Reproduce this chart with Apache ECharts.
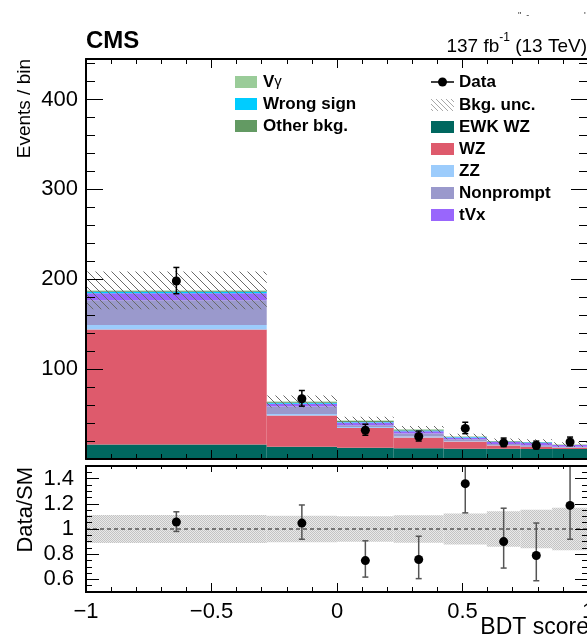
<!DOCTYPE html>
<html>
<head>
<meta charset="utf-8">
<script src="https://cdn.jsdelivr.net/npm/echarts@6/dist/echarts.min.js"></script>
<style>
  html, body { margin: 0; padding: 0; background: #fff; }
  #chart { width: 587px; height: 643px; }
</style>
</head>
<body>
<div id="chart"></div>
<script>
// BDT score binning (variable width) and per-bin yields
const binEdges    = [-1, -0.28, 0, 0.226, 0.425, 0.597, 0.731, 0.857, 1];
const ewkWZ       = [16, 13.5, 12.5, 12, 11.5, 11.5, 11, 11];
const wz          = [128, 35, 22, 12, 8, 3.5, 2.5, 1.5];
const zz          = [5, 1.5, 1, 1, 0.5, 0.3, 0.2, 0.2];
const nonprompt   = [27.5, 8.5, 2, 3.5, 2, 1.5, 1.5, 1];
const tvx         = [8, 3, 3, 2.5, 2, 2.5, 3, 1.8];
const wrongSign   = [1.5, 1, 0.7, 0.8, 0.4, 0.3, 0.3, 0.2];
const otherBkg    = [1, 1, 1, 0.8, 0.4, 0.3, 0.3, 0.2];
const vGamma      = [0.5, 0.5, 0.5, 0.4, 0.2, 0.1, 0.2, 0.1];
const bkgUnc      = [21, 6.7, 4.3, 3.6, 3.1, 2.8, 2.9, 2.7];
const dataCounts  = [198, 67, 32, 25, 34, 18, 15, 19];
const dataErrUp   = [15.1, 9.2, 6.7, 6.1, 6.9, 5.3, 4.9, 5.4];
const dataErrDown = [14.1, 8.2, 5.6, 5.0, 5.8, 4.2, 3.8, 4.3];

// axis ticks
const ratioMajorTicks = [0.6, 0.8, 1, 1.2, 1.4];
const ratioMinorTicks = [0.55, 0.65, 0.7, 0.75, 0.85, 0.9, 0.95, 1.05, 1.1, 1.15, 1.25, 1.3, 1.35, 1.45];

const FONT = '"Liberation Sans", Arial, Helvetica, sans-serif';
const nBins = dataCounts.length;

const layers = [
  { name: 'EWK WZ',      values: ewkWZ,     color: '#00675f' },
  { name: 'WZ',          values: wz,        color: '#de5a6c' },
  { name: 'ZZ',          values: zz,        color: '#9cccfc' },
  { name: 'Nonprompt',   values: nonprompt, color: '#9a99cc' },
  { name: 'tVx',         values: tvx,       color: '#9966fc' },
  { name: 'Wrong sign',  values: wrongSign, color: '#00ccff' },
  { name: 'Other bkg.',  values: otherBkg,  color: '#639a63' },
  { name: 'V\u03b3',     values: vGamma,    color: '#9acc99' }
];

// diagonal hatch used for the background uncertainty
function makeHatch(step, color) {
  const c = document.createElement('canvas');
  c.width = step; c.height = step;
  const g = c.getContext('2d');
  g.strokeStyle = color; g.lineWidth = 1;
  g.beginPath();
  g.moveTo(-1, -1); g.lineTo(step + 1, step + 1);
  g.moveTo(-1, step - 1); g.lineTo(1, step + 1);
  g.moveTo(step - 1, -1); g.lineTo(step + 1, 1);
  g.stroke();
  return c;
}
// fine stipple used for the ratio uncertainty band
function makeStipple() {
  const c = document.createElement('canvas');
  c.width = 2; c.height = 2;
  const g = c.getContext('2d');
  g.fillStyle = '#e9e9e9'; g.fillRect(0, 0, 2, 2);
  g.fillStyle = '#c4c4c4'; g.fillRect(0, 0, 1, 1); g.fillRect(1, 1, 1, 1);
  return c;
}
const hatchCanvas = makeHatch(8, '#6a6a6a');
const legendHatch = makeHatch(5, '#a8a8a8');
const stippleCanvas = makeStipple();

function rectItem(fillFn) {
  return function (params, api) {
    const a = api.coord([api.value(0), api.value(3)]);
    const b = api.coord([api.value(1), api.value(2)]);
    return {
      type: 'rect',
      shape: { x: a[0], y: a[1], width: b[0] - a[0], height: b[1] - a[1] },
      style: { fill: fillFn ? fillFn() : api.visual('color') }
    };
  };
}

function pointItem(color, r, capW) {
  return function (params, api) {
    const cs = params.coordSys;
    const c = api.coord([api.value(0), api.value(1)]);
    let top = api.coord([api.value(0), api.value(3)])[1];
    let bot = api.coord([api.value(0), api.value(2)])[1];
    const yMin = cs.y, yMax = cs.y + cs.height;
    const topClipped = top < yMin, botClipped = bot > yMax;
    top = Math.max(top, yMin); bot = Math.min(bot, yMax);
    const st = { stroke: color, lineWidth: 1.5 };
    const kids = [{ type: 'line', shape: { x1: c[0], y1: top, x2: c[0], y2: bot }, style: st }];
    if (!topClipped) kids.push({ type: 'line', shape: { x1: c[0] - capW, y1: top, x2: c[0] + capW, y2: top }, style: st });
    if (!botClipped) kids.push({ type: 'line', shape: { x1: c[0] - capW, y1: bot, x2: c[0] + capW, y2: bot }, style: st });
    kids.push({ type: 'circle', shape: { cx: c[0], cy: c[1], r: r }, style: { fill: '#000' } });
    return { type: 'group', children: kids };
  };
}

// stacked histogram layers
const cum = new Array(nBins).fill(0);
const stackSeries = layers.map(function (l) {
  const items = l.values.map(function (v, i) {
    const base = cum[i];
    cum[i] += v;
    return [binEdges[i], binEdges[i + 1], base, cum[i]];
  });
  return {
    type: 'custom', name: l.name, xAxisIndex: 0, yAxisIndex: 0, silent: true,
    itemStyle: { color: l.color }, renderItem: rectItem(), encode: { x: [0, 1], y: [2, 3] },
    data: items, z: 2
  };
});
const totals = cum.slice();
const centers = totals.map(function (_, i) { return (binEdges[i] + binEdges[i + 1]) / 2; });

const uncItems = totals.map(function (t, i) {
  return [binEdges[i], binEdges[i + 1], t - bkgUnc[i], t + bkgUnc[i]];
});
const dataItems = dataCounts.map(function (d, i) {
  return [centers[i], d, d - dataErrDown[i], d + dataErrUp[i]];
});
const ratioBandItems = totals.map(function (t, i) {
  return [binEdges[i], binEdges[i + 1], 1 - bkgUnc[i] / t, 1 + bkgUnc[i] / t];
});
const ratioItems = dataCounts.map(function (d, i) {
  const t = totals[i];
  return [centers[i], d / t, (d - dataErrDown[i]) / t, (d + dataErrUp[i]) / t];
});

function xAx(grid, pos, major, minor, labels) {
  return {
    type: 'value', gridIndex: grid, position: pos, min: -1, max: 1, interval: 0.5, z: 10,
    axisLine: { show: true, onZero: false, lineStyle: { color: '#000', width: 2 } },
    axisTick: { show: true, inside: true, length: major, lineStyle: { color: '#000', width: 1 } },
    minorTick: { show: true, splitNumber: 5, length: minor, lineStyle: { color: '#000', width: 1 } },
    splitLine: { show: false }, minorSplitLine: { show: false },
    axisLabel: labels ? {
      show: true, color: '#000', fontFamily: FONT, fontSize: 22, margin: 9, hideOverlap: false,
      formatter: function (v) { return String(v).replace('-', '\u2212'); }
    } : { show: false }
  };
}
function yAxMain(pos, labels) {
  return {
    type: 'value', gridIndex: 0, position: pos, min: 0, max: 445, interval: 100, z: 10,
    axisLine: { show: true, onZero: false, lineStyle: { color: '#000', width: 2 } },
    axisTick: { show: true, inside: true, length: 17, lineStyle: { color: '#000', width: 1 } },
    minorTick: { show: true, splitNumber: 5, length: 9, lineStyle: { color: '#000', width: 1 } },
    splitLine: { show: false }, minorSplitLine: { show: false },
    axisLabel: labels ? {
      show: true, color: '#000', fontFamily: FONT, fontSize: 22, margin: 8,
      showMaxLabel: false, showMinLabel: false
    } : { show: false }
  };
}
function yAxRatio(pos, ticks, len, labels) {
  return {
    type: 'value', gridIndex: 1, position: pos, min: 0.5, max: 1.5, z: 10,
    axisLine: { show: true, onZero: false, lineStyle: { color: '#000', width: 2 } },
    axisTick: { show: true, inside: true, length: len, customValues: ticks, lineStyle: { color: '#000', width: 1 } },
    splitLine: { show: false },
    axisLabel: labels ? {
      show: true, color: '#000', fontFamily: FONT, fontSize: 22, margin: 12, customValues: ticks
    } : { show: false }
  };
}

const chart = echarts.init(document.getElementById('chart'), null, { renderer: 'canvas' });

const legendLeft = [
  { label: 'V', sym: '\u03b3', color: '#9acc99', y: 82 },
  { label: 'Wrong sign', color: '#00ccff', y: 104 },
  { label: 'Other bkg.', color: '#639a63', y: 126 }
];
const legendRight = [
  { label: 'EWK WZ', color: '#00675f', y: 127 },
  { label: 'WZ', color: '#de5a6c', y: 149 },
  { label: 'ZZ', color: '#9cccfc', y: 171 },
  { label: 'Nonprompt', color: '#9a99cc', y: 193 },
  { label: 'tVx', color: '#9966fc', y: 215 }
];
const legendFont = { fontFamily: FONT, fontSize: 17, fontWeight: 'bold', fill: '#000' };
const graphics = [];
legendLeft.forEach(function (e) {
  graphics.push({ type: 'rect', left: 235, top: e.y - 6, shape: { width: 22, height: 12 }, style: { fill: e.color } });
  graphics.push({
    type: 'text', x: 263, y: e.y,
    style: e.sym ? {
      text: '{b|' + e.label + '}{g|' + e.sym + '}', verticalAlign: 'middle',
      rich: { b: legendFont, g: { fontFamily: FONT, fontSize: 15, fill: '#000' } }
    } : Object.assign({ text: e.label, verticalAlign: 'middle' }, legendFont)
  });
});
legendRight.forEach(function (e) {
  graphics.push({ type: 'rect', left: 431, top: e.y - 6, shape: { width: 23, height: 12 }, style: { fill: e.color } });
  graphics.push({ type: 'text', x: 459, y: e.y, style: Object.assign({ text: e.label, verticalAlign: 'middle' }, legendFont) });
});
// Data entry: marker with horizontal bar
graphics.push({ type: 'line', shape: { x1: 431, y1: 82, x2: 454, y2: 82 }, style: { stroke: '#000', lineWidth: 1.5 } });
graphics.push({ type: 'circle', shape: { cx: 442.5, cy: 82, r: 4.5 }, style: { fill: '#000' } });
graphics.push({ type: 'text', x: 459, y: 82, style: Object.assign({ text: 'Data', verticalAlign: 'middle' }, legendFont) });
// Bkg. unc. entry
graphics.push({ type: 'rect', left: 431, top: 99, shape: { width: 23, height: 12 }, style: { fill: { image: legendHatch, repeat: 'repeat' } } });
graphics.push({ type: 'text', x: 459, y: 105, style: Object.assign({ text: 'Bkg. unc.', verticalAlign: 'middle' }, legendFont) });

// header texts
graphics.push({ type: 'text', x: 86, y: 53, style: { text: 'CMS', fontFamily: FONT, fontSize: 24, fontWeight: 'bold', fill: '#000', verticalAlign: 'bottom' } });
graphics.push({
  type: 'text', x: 587, y: 56,
  style: {
    text: '{a|137 fb}{s|-1}{a| (13 TeV)}', align: 'right', verticalAlign: 'bottom',
    rich: {
      a: { fontFamily: FONT, fontSize: 19, fill: '#000', lineHeight: 24, verticalAlign: 'bottom' },
      s: { fontFamily: FONT, fontSize: 12, fill: '#000', lineHeight: 24, verticalAlign: 'top' }
    }
  }
});
graphics.push({ type: 'text', x: 518, y: 20, style: { text: '"  -', fontFamily: FONT, fontSize: 9, fill: '#333', verticalAlign: 'bottom' } });
graphics.push({ type: 'text', x: 584, y: 20, style: { text: "'", fontFamily: FONT, fontSize: 9, fill: '#333', verticalAlign: 'bottom' } });

// axis titles
graphics.push({ type: 'text', x: 34, y: 59, rotation: Math.PI / 2, style: { text: 'Events / bin', fontFamily: FONT, fontSize: 19, fill: '#000', align: 'right', verticalAlign: 'bottom' } });
graphics.push({ type: 'text', x: 37, y: 467, rotation: Math.PI / 2, style: { text: 'Data/SM', fontFamily: FONT, fontSize: 22, fill: '#000', align: 'right', verticalAlign: 'bottom' } });
graphics.push({ type: 'text', x: 589, y: 639, style: { text: 'BDT score', fontFamily: FONT, fontSize: 23, fill: '#000', align: 'right', verticalAlign: 'bottom' } });

// reference line at ratio 1
const unityLine = [[-1, 1], [1, 1]];

chart.setOption({
  animation: false,
  backgroundColor: '#fff',
  grid: [
    { left: 86, right: -1, top: 59, height: 400, outerBoundsMode: 'none', containLabel: false },
    { left: 86, right: -1, top: 466, height: 126, outerBoundsMode: 'none', containLabel: false }
  ],
  xAxis: [
    xAx(0, 'bottom', 9, 5, false),
    xAx(0, 'top', 9, 5, false),
    xAx(1, 'bottom', 9, 5, true),
    xAx(1, 'top', 6, 3, false)
  ],
  yAxis: [
    yAxMain('left', true),
    yAxMain('right', false),
    yAxRatio('left', ratioMajorTicks, 13, true),
    yAxRatio('left', ratioMinorTicks, 6, false),
    yAxRatio('right', ratioMajorTicks, 13, false),
    yAxRatio('right', ratioMinorTicks, 6, false)
  ],
  series: stackSeries.concat([
    {
      type: 'custom', name: 'Bkg. unc.', xAxisIndex: 0, yAxisIndex: 0, silent: true, z: 3,
      renderItem: rectItem(function () { return { image: hatchCanvas, repeat: 'repeat' }; }),
      encode: { x: [0, 1], y: [2, 3] }, data: uncItems
    },
    {
      type: 'custom', name: 'Data', xAxisIndex: 0, yAxisIndex: 0, silent: true, z: 4,
      renderItem: pointItem('#000', 4.5, 3), encode: { x: 0, y: [1, 2, 3] }, data: dataItems
    },
    {
      type: 'custom', name: 'Ratio unc.', xAxisIndex: 2, yAxisIndex: 2, silent: true, z: 2,
      renderItem: rectItem(function () { return { image: stippleCanvas, repeat: 'repeat' }; }),
      encode: { x: [0, 1], y: [2, 3] }, data: ratioBandItems
    },
    {
      type: 'line', name: 'Unity', xAxisIndex: 2, yAxisIndex: 2, silent: true, z: 3,
      symbol: 'none', data: unityLine,
      lineStyle: { color: '#555', width: 1.5, type: [4, 3] }
    },
    {
      type: 'custom', name: 'Data/SM', xAxisIndex: 2, yAxisIndex: 2, silent: true, z: 4,
      renderItem: pointItem('#555', 4.5, 3), encode: { x: 0, y: [1, 2, 3] }, data: ratioItems
    }
  ]),
  graphic: graphics
});
</script>
</body>
</html>
